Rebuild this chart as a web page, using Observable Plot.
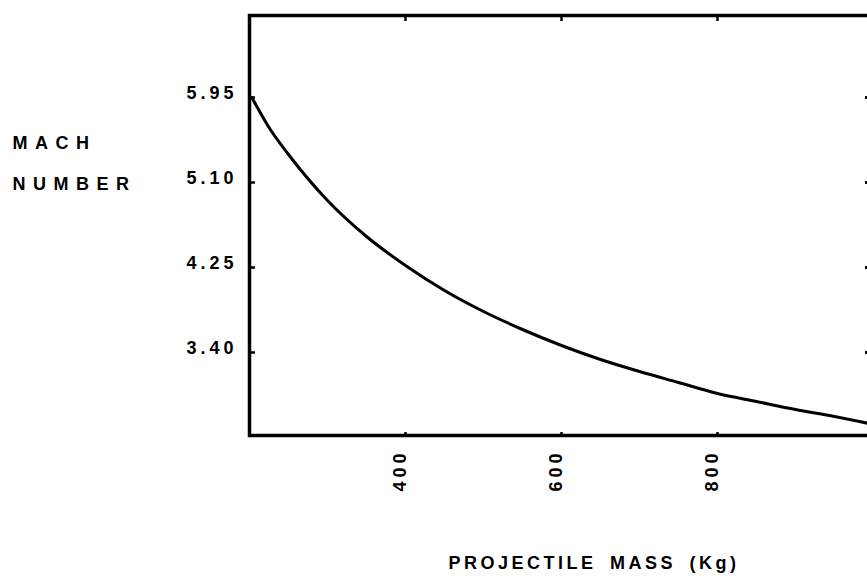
<!DOCTYPE html>
<html>
<head>
<meta charset="utf-8">
<script src="https://cdn.jsdelivr.net/npm/d3@7"></script>
<script src="https://cdn.jsdelivr.net/npm/@observablehq/plot@0.6"></script>
<style>
  html, body { margin: 0; padding: 0; background: #fff; overflow: hidden; }
  svg { max-width: none !important; }
  .tick-label text { letter-spacing: 4px; }
  .y-title text { letter-spacing: 7.5px; }
  .x-title text { letter-spacing: 3.5px; word-spacing: 5px; }
</style>
</head>
<body>
<div id="chart"></div>
<script>
// Projectile mass (kg) and the resulting Mach number
const mass = [203, 225, 250, 300, 350, 400, 450, 500, 550, 600, 650, 700, 750, 800, 850, 900, 950, 1000];
const mach = [5.95, 5.65, 5.38, 4.92, 4.56, 4.27, 4.02, 3.81, 3.63, 3.47, 3.33, 3.21, 3.10, 2.99, 2.91, 2.83, 2.76, 2.68];

// Tick values and their printed labels
const xTicks = [400, 600, 800];
const xTickLabels = ["400", "600", "800"];
const yTicks = [5.95, 5.10, 4.25, 3.40];
const yTickLabels = ["5.95", "5.10", "4.25", "3.40"];

const yTitle = ["MACH", "NUMBER"];
const xTitle = "PROJECTILE MASS (Kg)";

const curve = mass.map((m, i) => ({mass: m, mach: mach[i]}));

const font = "'Liberation Sans', Arial, sans-serif";
const ink = "#000";
const fs = 18;

const W = 873, H = 578;
const mL = 249, mR = 0, mT = 15, mB = 143;
const frameW = W - mL - mR, frameH = H - mT - mB;

const chart = Plot.plot({
  width: W,
  height: H,
  marginLeft: mL,
  marginRight: mR,
  marginTop: mT,
  marginBottom: mB,
  style: {fontFamily: font, background: "#fff", color: ink},
  x: {domain: [200, 1000], axis: null},
  y: {domain: [2.57, 6.77], axis: null},
  marks: [
    // plot frame
    Plot.frame({stroke: ink, strokeWidth: 3.5}),
    // inward tick marks on all four sides
    Plot.tickX(xTicks, {x: d => d, insetBottom: frameH - 6, stroke: ink, strokeWidth: 2.5}),
    Plot.tickX(xTicks, {x: d => d, insetTop: frameH - 3, stroke: ink, strokeWidth: 2.5}),
    Plot.tickY(yTicks, {y: d => d, insetRight: frameW - 6, stroke: ink, strokeWidth: 2.5}),
    Plot.tickY(yTicks, {y: d => d, insetLeft: frameW - 8, stroke: ink, strokeWidth: 3}),
    // the Mach number curve
    Plot.line(curve, {x: "mass", y: "mach", stroke: ink, strokeWidth: 3, curve: "monotone-x"}),
    // y tick labels
    Plot.text(yTicks, {
      y: d => d, text: (d, i) => yTickLabels[i], frameAnchor: "left", textAnchor: "end",
      dx: -12, dy: -4, fontSize: fs, fontWeight: "bold", fill: ink, className: "tick-label"
    }),
    // x tick labels, rotated
    Plot.text(xTicks, {
      x: d => d, text: (d, i) => xTickLabels[i], frameAnchor: "bottom", textAnchor: "end",
      rotate: -90, dy: 14, fontSize: fs, fontWeight: "bold", fill: ink, className: "tick-label"
    }),
    // axis titles
    Plot.text([yTitle[0]], {
      text: d => d, frameAnchor: "top-left", textAnchor: "start", lineAnchor: "middle",
      dx: 12 - mL, dy: 143 - mT, fontSize: fs, fontWeight: "bold", fill: ink, className: "y-title"
    }),
    Plot.text([yTitle[1]], {
      text: d => d, frameAnchor: "top-left", textAnchor: "start", lineAnchor: "middle",
      dx: 12 - mL, dy: 184 - mT, fontSize: fs, fontWeight: "bold", fill: ink, className: "y-title"
    }),
    Plot.text([xTitle], {
      text: d => d, frameAnchor: "bottom-left", textAnchor: "start", lineAnchor: "middle",
      dx: 448 - mL, dy: 563 - (H - mB), fontSize: fs, fontWeight: "bold", fill: ink, className: "x-title"
    })
  ]
});

document.getElementById("chart").appendChild(chart);
</script>
</body>
</html>
